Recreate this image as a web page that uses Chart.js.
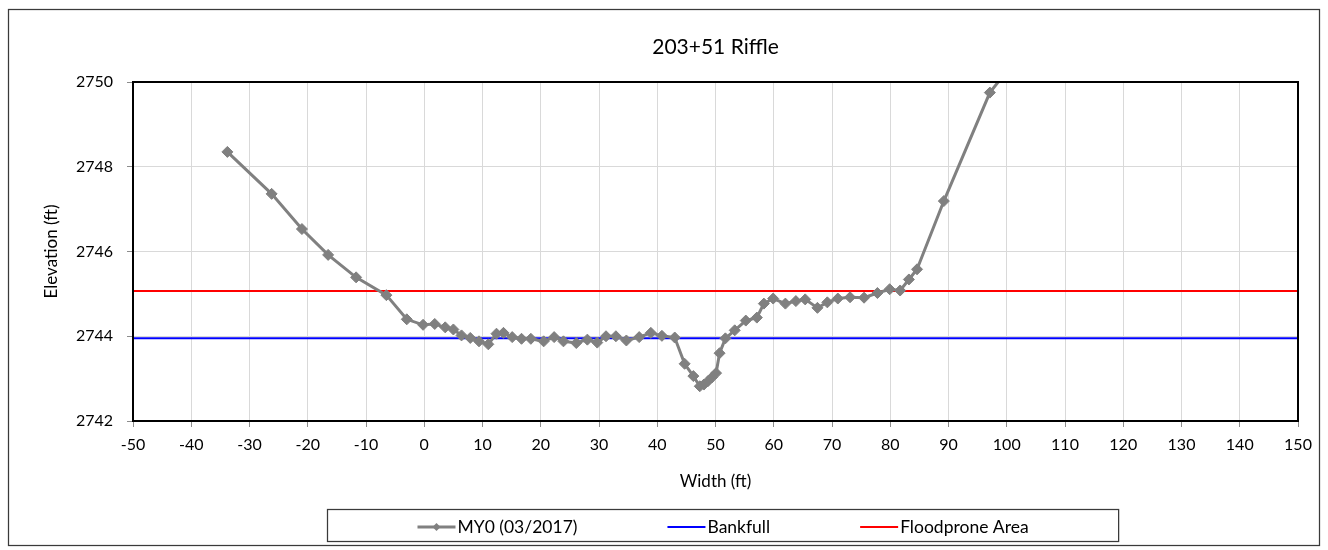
<!DOCTYPE html>
<html>
<head>
<meta charset="utf-8">
<script src="https://cdn.jsdelivr.net/npm/chart.js@4.4.1/dist/chart.umd.min.js"></script>
<style>
  html, body { margin: 0; padding: 0; background: #fff; }
  #wrap { width: 1328px; height: 550px; }
</style>
</head>
<body>
<div id="wrap"><canvas id="xsChart" width="1328" height="550"></canvas></div>
<script>
// 203+51 Riffle cross-section, surveyed MY0 (03/2017)
const chartTitle = "203+51 Riffle";
const seriesLabels = ["MY0 (03/2017)", "Bankfull", "Floodprone Area"];

const stationFt = [-33.8, -26.2, -21.0, -16.5, -11.7, -6.5, -3.0, -0.2, 1.8, 3.6,
  5.0, 6.4, 7.9, 9.4, 11.0, 12.4, 13.6, 15.1, 16.7, 18.3,
  20.5, 22.3, 23.9, 26.1, 28.0, 29.7, 31.2, 32.9, 34.7, 36.9,
  38.9, 40.8, 43.0, 44.7, 46.2, 47.3, 48.0, 48.7, 49.4, 50.1,
  50.7, 51.7, 53.3, 55.2, 57.1, 58.3, 59.9, 62.0, 63.8, 65.4,
  67.5, 69.2, 71.0, 73.1, 75.5, 77.8, 79.9, 81.7, 83.2, 84.6,
  89.2, 97.1, 103.0];
const elevationFt = [2748.35, 2747.36, 2746.53, 2745.92, 2745.39, 2744.97, 2744.40, 2744.27, 2744.29, 2744.21,
  2744.16, 2744.02, 2743.96, 2743.88, 2743.81, 2744.06, 2744.08, 2743.98, 2743.94, 2743.94,
  2743.88, 2743.98, 2743.88, 2743.84, 2743.92, 2743.85, 2744.00, 2744.00, 2743.90, 2743.98,
  2744.08, 2744.01, 2743.97, 2743.35, 2743.06, 2742.82, 2742.86, 2742.94, 2743.03, 2743.13,
  2743.60, 2743.95, 2744.14, 2744.37, 2744.44, 2744.77, 2744.89, 2744.77, 2744.83, 2744.87,
  2744.67, 2744.80, 2744.89, 2744.92, 2744.91, 2745.02, 2745.11, 2745.08, 2745.34, 2745.58,
  2747.19, 2749.75, 2750.78];

const bankfullElev = 2743.95;
const floodproneElev = 2745.07;
const xRange = [-50, 150];
const yRange = [2742, 2750];

const FONT = "Lato, 'Open Sans', sans-serif";

function flatLine(elev) {
  return xRange.map(x => ({ x: x, y: elev }));
}

// frame, plot border, title and the boxed legend
const decor = {
  id: 'decor',
  beforeDraw(chart) {
    const ctx = chart.ctx;
    ctx.save();
    ctx.fillStyle = '#fff';
    ctx.fillRect(0, 0, chart.width, chart.height);
    ctx.strokeStyle = '#3a3a3a';
    ctx.lineWidth = 1.25;
    ctx.strokeRect(8.5, 9.5, chart.width - 17, chart.height - 14);
    ctx.restore();
  },
  afterDatasetsDraw(chart) {
    const { ctx, chartArea: a } = chart;
    ctx.save();
    ctx.strokeStyle = '#000';
    ctx.lineWidth = 2;
    ctx.strokeRect(a.left, a.top, a.right - a.left, a.bottom - a.top);
    ctx.restore();
  },
  afterDraw(chart) {
    const { ctx, chartArea: a } = chart;
    ctx.save();
    ctx.fillStyle = '#000';
    ctx.textBaseline = 'middle';

    ctx.font = "21px " + FONT;
    ctx.textAlign = 'center';
    ctx.fillText(chartTitle, (a.left + a.right) / 2, 47);

    // legend
    ctx.font = "17.5px " + FONT;
    ctx.textAlign = 'left';
    const sets = chart.data.datasets;
    const lineLen = 38, gap = 90;
    let total = gap;
    sets.forEach(ds => { total += lineLen + 2 + ctx.measureText(ds.label).width + gap; });
    const boxLeft = Math.round(722.5 - total / 2) + 0.5;
    const boxTop = 509.5, boxH = 32, midY = 527;
    ctx.strokeStyle = '#3a3a3a';
    ctx.lineWidth = 1.25;
    ctx.strokeRect(boxLeft, boxTop, total, boxH);

    let x = boxLeft + gap;
    sets.forEach(ds => {
      ctx.strokeStyle = ds.borderColor;
      ctx.lineWidth = ds.borderWidth;
      ctx.beginPath();
      ctx.moveTo(x, midY);
      ctx.lineTo(x + lineLen, midY);
      ctx.stroke();
      if (ds.pointRadius > 0) {
        const cx = x + lineLen / 2, r = 4;
        ctx.fillStyle = ds.backgroundColor;
        ctx.beginPath();
        ctx.moveTo(cx, midY - r);
        ctx.lineTo(cx + r, midY);
        ctx.lineTo(cx, midY + r);
        ctx.lineTo(cx - r, midY);
        ctx.closePath();
        ctx.fill();
      }
      ctx.fillStyle = '#000';
      ctx.fillText(ds.label, x + lineLen + 2, midY);
      x += lineLen + 2 + ctx.measureText(ds.label).width + gap;
    });
    ctx.restore();
  }
};

const ctx = document.getElementById('xsChart').getContext('2d');
new Chart(ctx, {
  type: 'scatter',
  data: {
    datasets: [
      {
        label: seriesLabels[0],
        data: stationFt.map((x, i) => ({ x: x, y: elevationFt[i] })),
        showLine: true,
        borderColor: '#808080',
        backgroundColor: '#808080',
        borderWidth: 3,
        pointStyle: 'rectRot',
        pointRadius: 5.5,
        pointBorderWidth: 1,
        pointBorderColor: '#808080',
        pointBackgroundColor: '#808080'
      },
      {
        label: seriesLabels[1],
        data: flatLine(bankfullElev),
        showLine: true,
        borderColor: '#0000ff',
        backgroundColor: '#0000ff',
        borderWidth: 2,
        pointRadius: 0
      },
      {
        label: seriesLabels[2],
        data: flatLine(floodproneElev),
        showLine: true,
        borderColor: '#ff0000',
        backgroundColor: '#ff0000',
        borderWidth: 2,
        pointRadius: 0
      }
    ]
  },
  options: {
    responsive: false,
    animation: false,
    devicePixelRatio: 1,
    layout: { padding: { left: 20, right: 30, top: 82, bottom: 0 } },
    plugins: {
      legend: { display: false },
      title: { display: false },
      tooltip: { enabled: false }
    },
    scales: {
      x: {
        type: 'linear',
        min: xRange[0],
        max: xRange[1],
        afterFit: s => { s.height = 129; },
        ticks: {
          stepSize: 10,
          maxRotation: 0,
          autoSkip: false,
          padding: 8,
          color: '#000',
          font: { family: FONT, size: 16 },
          callback: v => String(v)
        },
        grid: { color: '#d9d9d9', tickColor: '#8c8c8c', tickLength: 6 },
        border: { display: false },
        title: {
          display: true,
          text: 'Width (ft)',
          color: '#000',
          font: { family: FONT, size: 17 },
          padding: { top: 0, bottom: 58 }
        }
      },
      y: {
        min: yRange[0],
        max: yRange[1],
        afterFit: s => { s.width = 113; },
        ticks: {
          stepSize: 2,
          padding: 14,
          color: '#000',
          font: { family: FONT, size: 16 },
          callback: v => String(v)
        },
        grid: { color: '#d9d9d9', tickColor: '#8c8c8c', tickLength: 6 },
        border: { display: false },
        title: {
          display: true,
          text: 'Elevation (ft)',
          color: '#000',
          font: { family: FONT, size: 17 },
          padding: { top: 21, bottom: 0 }
        }
      }
    }
  },
  plugins: [decor]
});
</script>
</body>
</html>
